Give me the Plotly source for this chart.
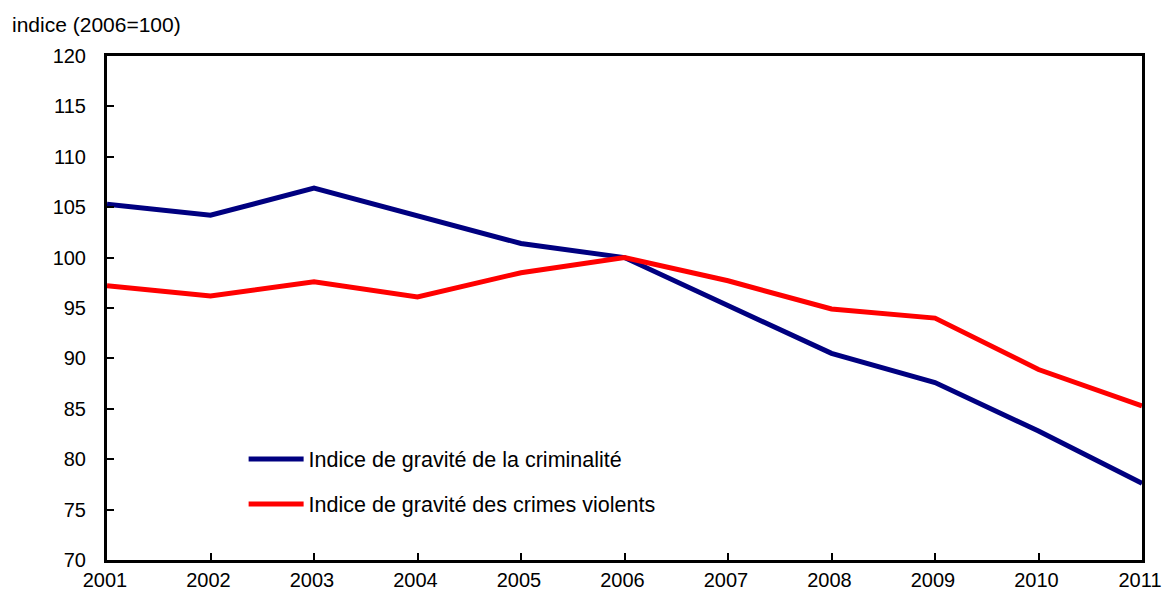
import plotly.graph_objects as go

years = [2001, 2002, 2003, 2004, 2005, 2006, 2007, 2008, 2009, 2010, 2011]
crime_severity = [105.3, 104.2, 106.9, 104.1, 101.4, 100.0, 95.3, 90.5, 87.6, 82.8, 77.6]
violent_severity = [97.2, 96.2, 97.6, 96.1, 98.5, 100.0, 97.7, 94.9, 94.0, 88.9, 85.3]
name_crime = "Indice de gravité de la criminalité"
name_violent = "Indice de gravité des crimes violents"
y_title = "indice (2006=100)"

fig = go.Figure()
fig.add_trace(go.Scatter(x=years, y=crime_severity, mode="lines", name=name_crime,
                         legendgroup="a", line=dict(color="#000080", width=5)))
fig.add_trace(go.Scatter(x=years, y=violent_severity, mode="lines", name=name_violent,
                         legendgroup="b", line=dict(color="#FF0000", width=5)))

font = dict(family="Liberation Sans, Arial, sans-serif", size=20, color="black")
fig.update_layout(
    width=1163, height=595,
    margin=dict(l=107, r=21, t=56, b=35, autoexpand=False),
    plot_bgcolor="white", paper_bgcolor="white",
    font=font,
    showlegend=True,
    legend=dict(x=0.132, y=0.241, xanchor="left", yanchor="top",
                bgcolor="rgba(0,0,0,0)", font=dict(size=21.5),
                tracegroupgap=14, itemwidth=55),
    xaxis=dict(range=[2001, 2011], tickmode="array", tickvals=years,
               ticktext=[str(y) for y in years], ticks="inside", ticklen=7,
               tickwidth=2, tickcolor="black", showline=True, linewidth=3,
               linecolor="black", mirror=True, showgrid=False, zeroline=False,
               automargin=False, tickfont=dict(size=20), ticklabeloverflow="allow",
               ticklabelshift=-2),
    yaxis=dict(range=[70, 120], dtick=5, ticks="inside", ticklen=7, tickwidth=2,
               tickcolor="black", showline=True, linewidth=3, linecolor="black",
               mirror=True, showgrid=False, zeroline=False, automargin=False,
               tickfont=dict(size=20), ticklabelstandoff=14),
    annotations=[dict(text=y_title, xref="paper", yref="paper", x=-0.094, y=1.0,
                      yshift=18, xanchor="left", yanchor="bottom", showarrow=False,
                      font=dict(size=21))],
)

fig.write_html("out.html", config={"displayModeBar": False},
               post_script="document.body.style.margin='0';document.body.style.overflow='hidden';")
